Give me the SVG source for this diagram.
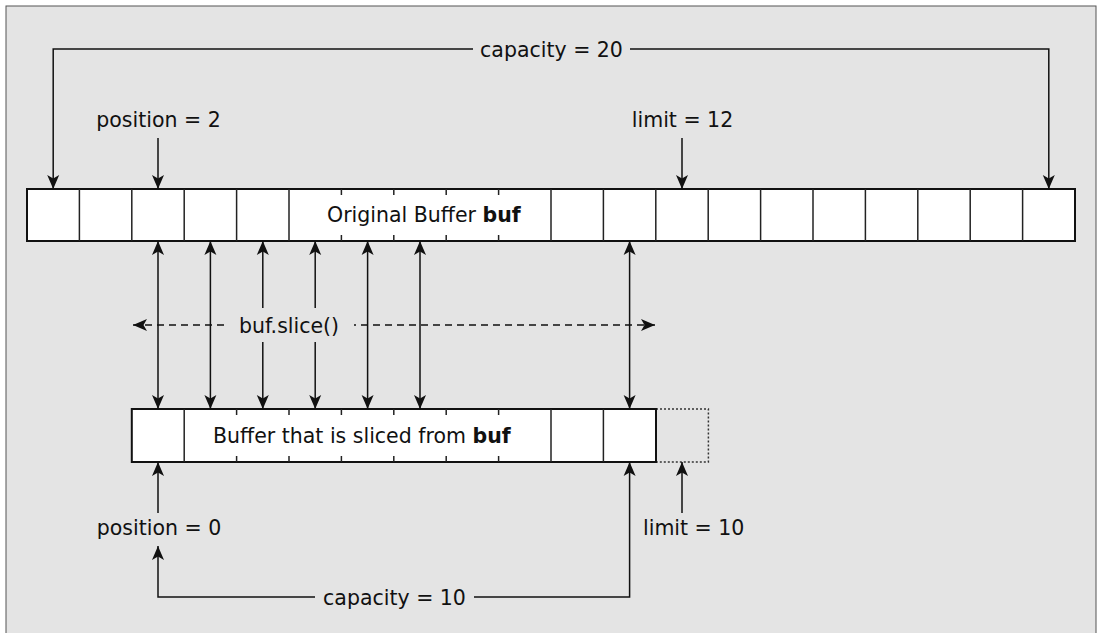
<svg xmlns="http://www.w3.org/2000/svg" width="1100" height="633" viewBox="0 0 1100 633">
  <style>
    text { font-family: "DejaVu Sans", "Liberation Sans", sans-serif; font-size: 20.5px; fill: #111; }
    .b { font-weight: bold; }
    .buf { fill: #fff; stroke: #111; stroke-width: 2; }
    .div { stroke: #222; stroke-width: 1.5; }
    .ln { fill: none; stroke: #111; stroke-width: 1.5; }
    .dash { fill: none; stroke: #111; stroke-width: 1.5; stroke-dasharray: 7 5; }
    .dot { fill: none; stroke: #333; stroke-width: 1.5; stroke-dasharray: 2 2; }
  </style>
  <defs>
    <marker id="ah" markerUnits="userSpaceOnUse" markerWidth="16" markerHeight="14" viewBox="-15 -7 16 14" refX="0" refY="0" orient="auto-start-reverse">
      <path d="M0,0 L-14,-6 L-10.5,0 L-14,6 Z" fill="#111"/>
    </marker>
  </defs>

  <rect x="6" y="6" width="1090" height="640" fill="#e4e4e4" stroke="#555" stroke-width="1"/>

  <g id="original-buffer">
    <rect class="buf" x="27" y="189" width="1048" height="52"/>
    <g class="div">
      <line x1="79.4" y1="189" x2="79.4" y2="241"/>
      <line x1="131.8" y1="189" x2="131.8" y2="241"/>
      <line x1="184.2" y1="189" x2="184.2" y2="241"/>
      <line x1="236.6" y1="189" x2="236.6" y2="241"/>
      <line x1="289" y1="189" x2="289" y2="241"/>
      <line x1="341.4" y1="189" x2="341.4" y2="195"/><line x1="341.4" y1="235" x2="341.4" y2="241"/>
      <line x1="393.8" y1="189" x2="393.8" y2="195"/><line x1="393.8" y1="235" x2="393.8" y2="241"/>
      <line x1="446.2" y1="189" x2="446.2" y2="195"/><line x1="446.2" y1="235" x2="446.2" y2="241"/>
      <line x1="498.6" y1="189" x2="498.6" y2="195"/><line x1="498.6" y1="235" x2="498.6" y2="241"/>
      <line x1="551" y1="189" x2="551" y2="241"/>
      <line x1="603.4" y1="189" x2="603.4" y2="241"/>
      <line x1="655.8" y1="189" x2="655.8" y2="241"/>
      <line x1="708.2" y1="189" x2="708.2" y2="241"/>
      <line x1="760.6" y1="189" x2="760.6" y2="241"/>
      <line x1="813" y1="189" x2="813" y2="241"/>
      <line x1="865.4" y1="189" x2="865.4" y2="241"/>
      <line x1="917.8" y1="189" x2="917.8" y2="241"/>
      <line x1="970.2" y1="189" x2="970.2" y2="241"/>
      <line x1="1022.6" y1="189" x2="1022.6" y2="241"/>
    </g>
    <text x="327" y="222">Original Buffer <tspan class="b">buf</tspan></text>
  </g>

  <g id="sliced-buffer">
    <rect class="dot" x="656" y="409" width="52.4" height="53"/>
    <rect class="buf" x="131.8" y="409" width="524.2" height="53"/>
    <g class="div">
      <line x1="184.2" y1="409" x2="184.2" y2="462"/>
      <line x1="236.6" y1="409" x2="236.6" y2="415"/><line x1="236.6" y1="456" x2="236.6" y2="462"/>
      <line x1="289" y1="409" x2="289" y2="415"/><line x1="289" y1="456" x2="289" y2="462"/>
      <line x1="341.4" y1="409" x2="341.4" y2="415"/><line x1="341.4" y1="456" x2="341.4" y2="462"/>
      <line x1="393.8" y1="409" x2="393.8" y2="415"/><line x1="393.8" y1="456" x2="393.8" y2="462"/>
      <line x1="446.2" y1="409" x2="446.2" y2="415"/><line x1="446.2" y1="456" x2="446.2" y2="462"/>
      <line x1="498.6" y1="409" x2="498.6" y2="415"/><line x1="498.6" y1="456" x2="498.6" y2="462"/>
      <line x1="551" y1="409" x2="551" y2="462"/>
      <line x1="603.4" y1="409" x2="603.4" y2="462"/>
    </g>
    <text x="213" y="443">Buffer that is sliced from <tspan class="b">buf</tspan></text>
  </g>

  <g id="connectors">
    <polyline class="ln" points="473,49 53.2,49 53.2,189" marker-end="url(#ah)"/>
    <polyline class="ln" points="630,49 1048.8,49 1048.8,189" marker-end="url(#ah)"/>
    <line class="ln" x1="158" y1="138" x2="158" y2="189" marker-end="url(#ah)"/>
    <line class="ln" x1="682" y1="138" x2="682" y2="189" marker-end="url(#ah)"/>
    <line class="dash" x1="133" y1="325" x2="655" y2="325" marker-start="url(#ah)" marker-end="url(#ah)"/>
    <line class="ln" x1="158" y1="241" x2="158" y2="409" marker-start="url(#ah)" marker-end="url(#ah)"/>
    <line class="ln" x1="210.4" y1="241" x2="210.4" y2="409" marker-start="url(#ah)" marker-end="url(#ah)"/>
    <line class="ln" x1="262.8" y1="241" x2="262.8" y2="409" marker-start="url(#ah)" marker-end="url(#ah)"/>
    <line class="ln" x1="315.2" y1="241" x2="315.2" y2="409" marker-start="url(#ah)" marker-end="url(#ah)"/>
    <line class="ln" x1="367.6" y1="241" x2="367.6" y2="409" marker-start="url(#ah)" marker-end="url(#ah)"/>
    <line class="ln" x1="420" y1="241" x2="420" y2="409" marker-start="url(#ah)" marker-end="url(#ah)"/>
    <line class="ln" x1="629.6" y1="241" x2="629.6" y2="409" marker-start="url(#ah)" marker-end="url(#ah)"/>
    <line class="ln" x1="158" y1="513" x2="158" y2="462" marker-end="url(#ah)"/>
    <line class="ln" x1="682" y1="513" x2="682" y2="462" marker-end="url(#ah)"/>
    <polyline class="ln" points="315,597 158,597 158,546" marker-end="url(#ah)"/>
    <polyline class="ln" points="474,597 629.6,597 629.6,462" marker-end="url(#ah)"/>
  </g>

  <g id="labels">
    <text x="551.5" y="57" text-anchor="middle">capacity = 20</text>
    <text x="158.5" y="127" text-anchor="middle">position = 2</text>
    <text x="682.5" y="127" text-anchor="middle">limit = 12</text>
    <rect x="228" y="308" width="126" height="34" fill="#e4e4e4"/>
    <text x="289" y="333" text-anchor="middle">buf.slice()</text>
    <text x="159" y="535" text-anchor="middle">position = 0</text>
    <text x="643" y="535">limit = 10</text>
    <text x="394.5" y="605" text-anchor="middle">capacity = 10</text>
  </g>
</svg>
